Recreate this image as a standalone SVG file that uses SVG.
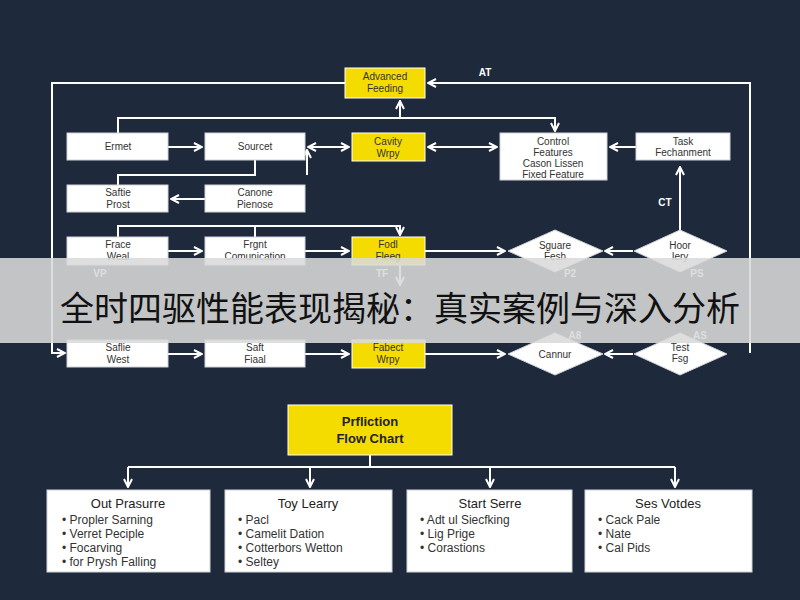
<svg xmlns="http://www.w3.org/2000/svg" width="800" height="600" viewBox="0 0 800 600">
<defs>
<marker id="ah" viewBox="0 0 10 10" refX="9" refY="5" markerWidth="5" markerHeight="5" orient="auto-start-reverse"><path d="M1,1 L9,5 L1,9" fill="none" stroke="#fff" stroke-width="2"/></marker>
<style>
.w{fill:#fff;stroke:#cfd3d8;stroke-width:1}
.y{fill:#f5dc00;stroke:#fff;stroke-width:1}
.t{font-family:"Liberation Sans",Arial,sans-serif;font-size:10px;fill:#333;text-anchor:middle}
.l{font-family:"Liberation Sans",Arial,sans-serif;font-size:10px;fill:#fff;font-weight:bold;text-anchor:middle}
.h{font-family:"Liberation Sans",Arial,sans-serif;font-size:13px;fill:#222;text-anchor:middle}
.b{font-family:"Liberation Sans",Arial,sans-serif;font-size:12px;fill:#333}
#conn path{fill:none;stroke:#fff;stroke-width:2}
</style>
</defs>
<rect width="800" height="600" fill="#1e293b"/>
<g id="conn">
<path d="M345,83 H52 V353 H65" marker-end="url(#ah)"/>
<path d="M750,353 V83 H428" marker-end="url(#ah)"/>
<path d="M118,133 V118 H555 V131" marker-end="url(#ah)"/>
<path d="M400,118 V101" marker-end="url(#ah)"/>
<path d="M168,147 H202" marker-end="url(#ah)"/>
<path d="M308,147 H349" marker-start="url(#ah)" marker-end="url(#ah)"/>
<path d="M428,147 H497" marker-start="url(#ah)" marker-end="url(#ah)"/>
<path d="M636,147 H610" marker-end="url(#ah)"/>
<path d="M255,160 V175 H118 V185"/>
<path d="M307,175 V150" marker-end="url(#ah)"/>
<path d="M205,199 H171" marker-end="url(#ah)"/>
<path d="M118,237 V226 H400 V235" marker-end="url(#ah)"/>
<path d="M255,226 V237"/>
<path d="M168,251 H202" marker-end="url(#ah)"/>
<path d="M305,251 H349" marker-end="url(#ah)"/>
<path d="M425,251 H505" marker-end="url(#ah)"/>
<path d="M633,251 H605" marker-end="url(#ah)"/>
<path d="M680,231 V167" marker-end="url(#ah)"/>
<path d="M400,265 V285" marker-end="url(#ah)"/>
<path d="M168,354 H202" marker-end="url(#ah)"/>
<path d="M305,354 H349" marker-end="url(#ah)"/>
<path d="M425,354 H505" marker-end="url(#ah)"/>
<path d="M633,354 H605" marker-end="url(#ah)"/>
<path d="M370,455 V467 M128,467 H675"/>
<path d="M128,467 V487" marker-end="url(#ah)"/>
<path d="M310,467 V487" marker-end="url(#ah)"/>
<path d="M490,467 V487" marker-end="url(#ah)"/>
<path d="M675,467 V487" marker-end="url(#ah)"/>
</g>
<text class="l" x="485" y="76">AT</text>
<text class="l" x="665" y="206">CT</text>
<g id="n1"><rect class="y" x="345" y="68" width="80" height="30"/><text class="t" x="385" y="80">Advanced</text><text class="t" x="385" y="92">Feeding</text></g>
<g id="n2"><rect class="w" x="67" y="133" width="101" height="27"/><text class="t" x="118" y="150">Ermet</text></g>
<g id="n3"><rect class="w" x="205" y="133" width="100" height="27"/><text class="t" x="255" y="150">Sourcet</text></g>
<g id="n4"><rect class="y" x="352" y="133" width="73" height="28"/><text class="t" x="388" y="145">Cavity</text><text class="t" x="388" y="157">Wrpy</text></g>
<g id="n5"><rect class="w" x="500" y="133" width="107" height="47"/><text class="t" x="553" y="145">Control</text><text class="t" x="553" y="156">Features</text><text class="t" x="553" y="167">Cason Lissen</text><text class="t" x="553" y="178">Fixed Feature</text></g>
<g id="n6"><rect class="w" x="636" y="133" width="94" height="27"/><text class="t" x="683" y="145">Task</text><text class="t" x="683" y="156">Fechanment</text></g>
<g id="n7"><rect class="w" x="67" y="185" width="101" height="27"/><text class="t" x="118" y="196">Saftie</text><text class="t" x="118" y="208">Prost</text></g>
<g id="n8"><rect class="w" x="205" y="185" width="100" height="27"/><text class="t" x="255" y="196">Canone</text><text class="t" x="255" y="208">Pienose</text></g>
<g id="n9"><rect class="w" x="67" y="237" width="101" height="28"/><text class="t" x="118" y="248">Frace</text><text class="t" x="118" y="260">Weal</text></g>
<g id="n10"><rect class="w" x="205" y="237" width="100" height="28"/><text class="t" x="255" y="248">Frgnt</text><text class="t" x="255" y="260">Comunication</text></g>
<g id="n11"><rect class="y" x="352" y="237" width="73" height="28"/><text class="t" x="388" y="248">Fodl</text><text class="t" x="388" y="260">Fleeg</text></g>
<g id="n12"><polygon class="w" points="508,251 555,230 603,251 555,272"/><text class="t" x="555" y="249">Sguare</text><text class="t" x="555" y="260">Fesh</text></g>
<g id="n13"><polygon class="w" points="634,251 680,230 727,251 680,272"/><text class="t" x="680" y="249">Hoor</text><text class="t" x="680" y="260">Iery</text></g>
<g id="n14"><rect class="w" x="67" y="340" width="101" height="27"/><text class="t" x="118" y="351">Saflie</text><text class="t" x="118" y="363">West</text></g>
<g id="n15"><rect class="w" x="205" y="340" width="100" height="27"/><text class="t" x="255" y="351">Saft</text><text class="t" x="255" y="363">Fiaal</text></g>
<g id="n16"><rect class="y" x="352" y="340" width="73" height="28"/><text class="t" x="388" y="351">Fabect</text><text class="t" x="388" y="363">Wrpy</text></g>
<g id="n17"><polygon class="w" points="508,354 555,333 603,354 555,375"/><text class="t" x="555" y="358">Cannur</text></g>
<g id="n18"><polygon class="w" points="634,354 680,333 727,354 680,375"/><text class="t" x="680" y="351">Test</text><text class="t" x="680" y="362">Fsg</text></g>
<text class="l" x="100" y="277">VP</text><text class="l" x="382" y="277">TF</text><text class="l" x="570" y="277">P2</text><text class="l" x="697" y="277">PS</text><text class="l" x="575" y="339">A8</text><text class="l" x="700" y="339">AS</text>
<g id="banner"><rect x="0" y="258" width="800" height="85" fill="#d9d9d9" opacity="0.88"/><text x="400" y="321" font-family="'Noto Sans CJK SC',sans-serif" font-size="34" fill="#111" text-anchor="middle">全时四驱性能表现揭秘：真实案例与深入分析</text></g>
<g id="n19"><rect class="y" x="288" y="405" width="164" height="50"/><text class="h" x="370" y="426" font-weight="bold">Prfliction</text><text class="h" x="370" y="443" font-weight="bold">Flow Chart</text></g>
<g id="c1"><rect class="w" x="47" y="490" width="163" height="82"/><text class="h" x="128" y="508">Out Prasurre</text><text class="b" x="62" y="524">•  Propler Sarning</text><text class="b" x="62" y="538">•  Verret Peciple</text><text class="b" x="62" y="552">•  Focarving</text><text class="b" x="62" y="566">•  for Prysh Falling</text></g>
<g id="c2"><rect class="w" x="225" y="490" width="167" height="82"/><text class="h" x="308" y="508">Toy Learry</text><text class="b" x="238" y="524">•  Pacl</text><text class="b" x="238" y="538">•  Camelit Dation</text><text class="b" x="238" y="552">•  Cotterbors Wetton</text><text class="b" x="238" y="566">•  Seltey</text></g>
<g id="c3"><rect class="w" x="407" y="490" width="165" height="82"/><text class="h" x="490" y="508">Start Serre</text><text class="b" x="420" y="524">•  Adt ul Siecfking</text><text class="b" x="420" y="538">•  Lig Prige</text><text class="b" x="420" y="552">•  Corastions</text></g>
<g id="c4"><rect class="w" x="585" y="490" width="167" height="82"/><text class="h" x="668" y="508">Ses Votdes</text><text class="b" x="598" y="524">•  Cack Pale</text><text class="b" x="598" y="538">•  Nate</text><text class="b" x="598" y="552">•  Cal Pids</text></g>
</svg>
